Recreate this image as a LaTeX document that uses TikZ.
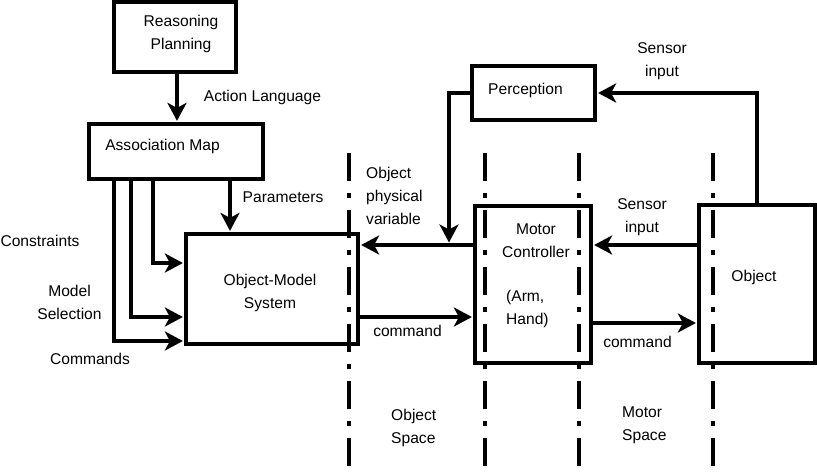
\documentclass[tikz,border=0pt]{standalone}
\usepackage{fontspec}
\setmainfont{Liberation Sans}
\usetikzlibrary{arrows.meta}
\begin{document}
\begin{tikzpicture}[x=1pt,y=-1pt,
  box/.style={draw, line width=3.2pt, inner sep=0pt},
  lbl/.style={inner sep=0pt, font=\fontsize{15.6}{23}\selectfont, text height=11.2pt, text depth=0pt, align=center},
  two/.style={text height=34.2pt},
  three/.style={text height=57.2pt},
  arr/.style={line width=3.2pt, shorten >=1.5pt, -{Stealth[length=18pt,width=19pt,inset=5pt]}},
  divider/.style={line width=3.2pt, dash pattern=on 28pt off 12pt on 5pt off 12pt}]
\useasboundingbox (0,0) rectangle (817,472);
% boxes
\node[box, minimum width=122pt, minimum height=70pt] (reason) at (175,37) {};
\node[box, minimum width=174pt, minimum height=55pt] (assoc) at (176,151.5) {};
\node[box, minimum width=172pt, minimum height=110pt] (oms) at (272,289) {};
\node[box, minimum width=123pt, minimum height=54pt] (percep) at (533.5,93) {};
\node[box, minimum width=116pt, minimum height=157pt] (mc) at (533,284.5) {};
\node[box, minimum width=116pt, minimum height=158pt] (obj) at (757,284) {};
% texts
\node[lbl, two] (treason) at (181,32.5) {Reasoning\\Planning};
\node[lbl] (tassoc) at (162.5,145) {Association Map};
\node[lbl, two] (toms) at (270,291) {Object-Model\\System};
\node[lbl] (tpercep) at (525.5,89) {Perception};
\node[lbl, two] (tmc) at (536,240.5) {Motor\\Controller};
\node[lbl, two, align=left, anchor=west] (tarm) at (506,307.5) {(Arm,\\Hand)};
\node[lbl] (tobj) at (754,276) {Object};
\node[lbl] (taction) at (262.5,96) {Action Language};
\node[lbl] (tparam) at (283,197) {Parameters};
\node[lbl] (tcons) at (40,241) {Constraints};
\node[lbl, two] (tmodel) at (69.5,302) {Model\\Selection};
\node[lbl] (tcomm) at (90,359) {Commands};
\node[lbl, three, align=left, anchor=west] (tphys) at (366,196) {Object\\physical\\variable};
\node[lbl, two] (tsens1) at (662,59) {Sensor\\input};
\node[lbl, two] (tsens2) at (642,215.5) {Sensor\\input};
\node[lbl] (tcmd1) at (407.5,331) {command};
\node[lbl] (tcmd2) at (637.5,342) {command};
\node[lbl, two, align=left, anchor=west] (tospace) at (391,426.5) {Object\\Space};
\node[lbl, two, align=left, anchor=west] (tmspace) at (622,423.5) {Motor\\Space};
% dividers
\foreach \x/\n in {349/a,485/b,579/c,713/d}{
  \coordinate (top\n) at (\x,153);
  \coordinate (bot\n) at (\x,466);
  \draw[divider] (top\n) -- (bot\n);
}
% arrows left part
\draw[arr] (reason.south -| 177,0) -- (assoc.north -| 177,0);
\draw[arr] (assoc.south -| 153,0) |- (oms.west |- 0,263);
\draw[arr] (assoc.south -| 131,0) |- (oms.west |- 0,317);
\draw[arr] (assoc.south -| 114,0) |- (oms.west |- 0,341);
\draw[arr] (assoc.south -| 230,0) -- (oms.north -| 230,0);
% arrows right part
\coordinate (fb) at (449,244);
\draw[arr] (obj.north) |- (percep.east);
\draw[arr] (percep.west) -| (fb);
\draw[arr] (mc.west |- 0,245) -- (oms.east |- 0,245);
\draw[arr] (obj.west |- 0,245) -- (mc.east |- 0,245);
\draw[arr] (oms.east |- 0,317) -- (mc.west |- 0,317);
\draw[arr] (mc.east |- 0,323) -- (obj.west |- 0,323);
\end{tikzpicture}
\end{document}
